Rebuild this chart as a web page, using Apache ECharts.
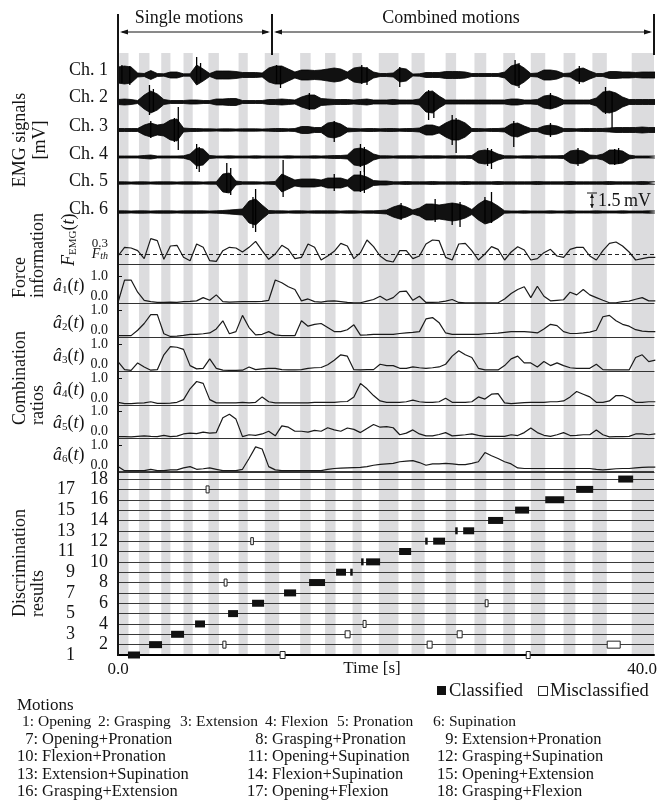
<!DOCTYPE html>
<html><head><meta charset="utf-8">
<script src="https://cdn.jsdelivr.net/npm/echarts@6/dist/echarts.min.js"></script>
<style>html,body{margin:0;padding:0;background:#fff}#c{width:658px;height:804px}</style>
</head><body><div id="c"></div>
<script>
// ---------------- data ----------------
const DT = 0.5;           // sampling step of the read-off curves [s]
const T_MAX = 40.9;       // right end of time axis [s]
const restBands = [[0.1,0.8],[1.6,2.4],[3.3,4.0],[5.0,5.7],[6.9,7.7],[9.2,9.9],[11.2,12.3],[13.9,14.7],[15.8,16.6],[17.9,18.6],[19.9,21.4],[22.4,23.4],[25.0,25.8],[27.2,28.1],[29.4,30.3],[31.5,32.6],[34.0,34.9],[36.2,37.3],[39.2,40.9]];
const motionNumbers = [1,2,3,4,5,6,7,8,9,10,11,12,13,14,15,16,17,18];
const motionLabelTimes = [1.3,3.0,4.7,6.4,8.55,10.6,13.05,15.25,17.1,19.25,22.0,24.2,26.2,28.4,30.9,33.35,35.65,38.15];

// EMG envelopes (half amplitude, mV), one value per 0.5 s
const emgCh1 = [0.8,0.9,0.8,0.2,0.15,0.45,0.15,0.12,0.3,0.3,0.12,0.12,1.0,0.6,0.15,0.4,0.4,0.4,0.35,0.25,0.25,0.25,0.2,0.7,0.9,0.9,0.6,0.3,0.5,0.5,0.45,0.5,0.6,
0.7,0.6,0.3,0.7,0.8,0.7,0.3,0.15,0.15,0.2,0.7,0.6,0.1,0.12,0.25,0.25,0.25,0.35,0.35,0.35,0.3,0.15,0.15,0.15,0.15,0.15,0.3,0.9,1.1,0.7,0.15,0.2,0.5,0.5,0.4,0.15,0.2,0.6,0.7,0.4,0.15,0.15,0.35,0.35,0.3,0.3,0.25,0.3,0.3,0.3];
const emgCh2 = [0.25,0.3,0.25,0.15,0.7,1.1,0.8,0.25,0.15,0.15,0.15,0.2,0.2,0.15,0.15,0.3,0.3,0.35,0.35,0.15,0.15,0.15,0.15,0.25,0.25,0.3,0.25,0.2,0.5,0.7,0.7,0.35,0.3,
0.25,0.25,0.25,0.2,0.25,0.3,0.2,0.2,0.2,0.25,0.2,0.2,0.2,0.3,1.0,1.1,0.6,0.2,0.2,0.2,0.2,0.2,0.2,0.2,0.2,0.2,0.2,0.3,0.3,0.2,0.2,0.25,0.6,0.7,0.5,0.2,0.2,0.2,0.2,0.2,0.4,1.0,1.1,0.9,0.5,0.25,0.25,0.25,0.25,0.25];
const emgCh3 = [0.15,0.15,0.15,0.15,0.5,0.7,0.5,0.6,1.0,1.1,0.2,0.15,0.15,0.12,0.12,0.1,0.12,0.12,0.1,0.12,0.12,0.12,0.1,0.12,0.15,0.15,0.12,0.15,0.35,0.35,0.25,0.25,0.7,
0.8,0.6,0.2,0.15,0.12,0.15,0.15,0.12,0.15,0.15,0.12,0.15,0.15,0.2,0.5,0.5,0.3,0.7,1.0,1.0,0.7,0.15,0.15,0.12,0.15,0.15,0.2,0.6,0.7,0.4,0.15,0.15,0.4,0.5,0.4,0.15,0.15,0.12,0.15,0.15,0.15,0.15,0.2,0.25,0.25,0.25,0.25,0.3,0.25,0.25];
const emgCh4 = [0.1,0.1,0.1,0.1,0.15,0.2,0.1,0.1,0.1,0.1,0.12,0.3,0.9,0.8,0.15,0.1,0.1,0.12,0.1,0.1,0.1,0.12,0.1,0.1,0.1,0.1,0.12,0.1,0.1,0.1,0.12,0.1,0.12,
0.15,0.15,0.2,0.8,0.9,0.7,0.3,0.12,0.12,0.1,0.12,0.12,0.12,0.1,0.12,0.12,0.12,0.1,0.12,0.12,0.12,0.15,0.6,0.7,0.6,0.3,0.12,0.12,0.1,0.12,0.12,0.1,0.12,0.12,0.12,0.15,0.6,0.7,0.6,0.2,0.15,0.3,0.7,0.7,0.6,0.2,0.1,0.1,0.1,0.1];
const emgCh5 = [0.12,0.12,0.1,0.12,0.12,0.1,0.12,0.12,0.12,0.1,0.12,0.12,0.12,0.1,0.12,0.12,0.9,1.0,0.2,0.12,0.12,0.12,0.1,0.12,0.15,0.9,0.6,0.3,0.4,0.4,0.4,0.3,0.5,
0.5,0.5,0.3,0.8,0.8,0.6,0.25,0.2,0.2,0.12,0.12,0.15,0.12,0.12,0.12,0.15,0.12,0.12,0.12,0.12,0.15,0.12,0.12,0.12,0.12,0.15,0.12,0.12,0.12,0.12,0.12,0.15,0.12,0.12,0.12,0.12,0.15,0.12,0.12,0.12,0.12,0.12,0.15,0.12,0.12,0.12,0.12,0.15,0.12,0.12];
const emgCh6 = [0.12,0.12,0.1,0.12,0.12,0.1,0.12,0.12,0.12,0.1,0.12,0.12,0.12,0.12,0.1,0.12,0.15,0.2,0.25,0.3,1.1,1.3,0.7,0.15,0.12,0.12,0.1,0.12,0.12,0.1,0.12,0.12,0.12,
0.12,0.1,0.12,0.12,0.1,0.12,0.12,0.15,0.2,0.5,0.7,0.5,0.2,0.4,0.8,0.8,0.7,0.8,0.9,0.8,0.6,0.25,0.8,1.2,1.0,0.6,0.12,0.1,0.1,0.12,0.1,0.1,0.1,0.12,0.1,0.1,0.12,0.1,0.1,0.1,0.12,0.1,0.1,0.1,0.12,0.1,0.1,0.1,0.12,0.1];
const emgChannels = [emgCh1, emgCh2, emgCh3, emgCh4, emgCh5, emgCh6];
// individual visible spikes: [time s, top mV, bottom mV]
const emgSpikes1 = [[0.3,1.0,-0.8],[0.9,0.9,-1.0],[6.0,1.8,-0.8],[6.3,1.2,-0.6],[12.1,1.0,-0.9],[12.4,0.9,-1.3],[18.6,1.0,-0.9],[19.0,0.8,-1.0],[21.5,0.8,-1.2],[30.3,1.5,-1.0],[30.6,1.2,-1.3],[35.2,0.9,-0.9]];
const emgSpikes2 = [[2.4,1.7,-1.3],[2.7,1.3,-1.0],[14.6,0.9,-0.8],[23.7,1.2,-1.8],[24.1,0.9,-1.6],[33.0,0.9,-0.7],[37.2,1.5,-1.2],[37.7,1.0,-2.6]];
const emgSpikes3 = [[2.5,0.9,-0.8],[4.3,1.2,-1.2],[4.6,2.3,-2.0],[16.5,0.9,-1.2],[25.5,1.5,-1.5],[25.8,1.2,-2.3],[30.2,0.9,-1.7],[33.0,0.7,-0.7]];
const emgSpikes4 = [[6.0,1.3,-1.2],[6.2,1.0,-1.5],[18.5,1.3,-1.0],[18.8,1.0,-1.5],[28.2,0.9,-0.9],[28.5,0.8,-1.2],[35.1,0.9,-0.9],[37.9,0.8,-0.8],[38.2,0.9,-0.7]];
const emgSpikes5 = [[8.3,2.0,-1.0],[8.6,1.5,-1.2],[12.6,2.3,-1.4],[16.5,0.9,-0.8],[18.5,1.2,-0.9],[18.8,1.8,-1.0]];
const emgSpikes6 = [[10.3,1.5,-1.6],[10.5,2.3,-2.0],[21.6,0.9,-0.8],[24.2,1.3,-1.0],[25.5,0.9,-1.3],[26.1,1.0,-1.5],[28.0,1.5,-1.0],[28.5,2.0,-1.1]];
const emgSpikes = [emgSpikes1, emgSpikes2, emgSpikes3, emgSpikes4, emgSpikes5, emgSpikes6];
const channelNames = ['Ch. 1','Ch. 2','Ch. 3','Ch. 4','Ch. 5','Ch. 6'];

// force information F_EMG(t)
const forceEMG = [0.12,0.25,0.24,0.2,0.08,0.38,0.35,0.07,0.27,0.28,0.1,0.05,0.3,0.25,0.05,0.04,0.2,0.25,0.24,0.18,0.25,0.34,0.2,0.07,0.15,0.28,0.22,0.08,0.1,0.3,0.25,0.06,0.12,
0.19,0.31,0.27,0.08,0.17,0.36,0.26,0.12,0.05,0.03,0.2,0.2,0.08,0.12,0.3,0.36,0.35,0.1,0.06,0.3,0.31,0.2,0.06,0.15,0.26,0.22,0.06,0.18,0.26,0.21,0.06,0.08,0.17,0.22,0.12,0.1,0.22,0.25,0.25,0.12,0.06,0.2,0.31,0.33,0.27,0.18,0.06,0.08,0.1,0.1];
const FTH = 0.15;

// combination ratios a1..a6
const ratio1 = [0.02,0.85,0.85,0.4,0.1,0.05,0.02,0.02,0.03,0.02,0.05,0.06,0.08,0.2,0.1,0.3,0.05,0.03,0.04,0.05,0.05,0.05,0.06,0.1,0.85,0.75,0.6,0.5,0.08,0.15,0.05,0.03,0.07,
0.08,0.05,0.02,0.01,0.01,0.07,0.13,0.25,0.1,0.2,0.42,0.44,0.1,0.25,0.02,0.02,0.03,0.07,0.13,0.02,0.01,0.01,0.01,0.01,0.01,0.01,0.15,0.35,0.5,0.6,0.2,0.62,0.25,0.08,0.1,0.12,0.4,0.3,0.5,0.3,0.2,0.1,0.01,0.01,0.05,0.07,0.14,0.2,0.08,0.08];
const ratio2 = [0.05,0.05,0.05,0.25,0.5,0.83,0.83,0.12,0.02,0.03,0.06,0.1,0.1,0.12,0.15,0.3,0.6,0.12,0.2,0.8,0.35,0.08,0.1,0.2,0.08,0.05,0.05,0.05,0.6,0.4,0.47,0.5,0.35,
0.2,0.2,0.27,0.45,0.07,0.08,0.1,0.1,0.1,0.1,0.13,0.15,0.17,0.2,0.67,0.72,0.53,0.15,0.1,0.1,0.1,0.1,0.1,0.12,0.13,0.14,0.17,0.2,0.2,0.2,0.18,0.15,0.3,0.47,0.42,0.2,0.13,0.13,0.15,0.18,0.25,0.75,0.8,0.6,0.47,0.4,0.27,0.22,0.2,0.2];
const ratio3 = [0.35,0.05,0.02,0.3,0.15,0.03,0.05,0.6,0.9,0.88,0.8,0.2,0.08,0.1,0.45,0.1,0.03,0.02,0.02,0.03,0.15,0.05,0.08,0.1,0.1,0.05,0.04,0.04,0.05,0.1,0.12,0.13,0.23,
0.4,0.6,0.55,0.05,0.04,0.05,0.05,0.25,0.2,0.2,0.1,0.1,0.15,0.12,0.1,0.12,0.15,0.25,0.55,0.75,0.6,0.5,0.1,0.04,0.04,0.04,0.2,0.45,0.55,0.3,0.3,0.15,0.35,0.2,0.3,0.2,0.12,0.1,0.1,0.1,0.25,0.05,0.04,0.04,0.04,0.04,0.5,0.6,0.35,0.4];
const ratio4 = [0.1,0.05,0.05,0.07,0.08,0.12,0.06,0.06,0.07,0.1,0.2,0.6,0.87,0.8,0.2,0.08,0.08,0.08,0.08,0.1,0.08,0.1,0.3,0.12,0.08,0.08,0.08,0.08,0.08,0.08,0.1,0.1,0.1,
0.1,0.12,0.13,0.3,0.8,0.6,0.35,0.15,0.1,0.1,0.1,0.12,0.18,0.12,0.1,0.1,0.12,0.25,0.1,0.1,0.1,0.12,0.3,0.22,0.4,0.42,0.08,0.05,0.07,0.09,0.1,0.1,0.1,0.12,0.12,0.15,0.3,0.5,0.4,0.3,0.1,0.1,0.15,0.35,0.35,0.25,0.1,0.1,0.12,0.12];
const ratio5 = [0.05,0.05,0.04,0.06,0.08,0.06,0.05,0.1,0.05,0.07,0.15,0.18,0.16,0.22,0.18,0.2,0.75,0.88,0.7,0.05,0.12,0.1,0.15,0.25,0.08,0.45,0.4,0.25,0.25,0.22,0.28,0.25,0.38,
0.3,0.25,0.37,0.32,0.2,0.35,0.5,0.4,0.42,0.38,0.12,0.18,0.3,0.15,0.08,0.08,0.13,0.2,0.08,0.1,0.12,0.15,0.1,0.06,0.06,0.06,0.06,0.12,0.09,0.2,0.37,0.2,0.1,0.06,0.12,0.2,0.09,0.1,0.12,0.12,0.3,0.12,0.04,0.05,0.05,0.06,0.15,0.15,0.12,0.15];
const ratio6 = [0.2,0.05,0.05,0.05,0.05,0.1,0.05,0.05,0.08,0.08,0.15,0.2,0.1,0.12,0.15,0.1,0.05,0.05,0.05,0.1,0.5,0.93,0.85,0.2,0.08,0.05,0.05,0.05,0.05,0.05,0.05,0.05,0.1,
0.13,0.14,0.15,0.16,0.17,0.2,0.25,0.28,0.3,0.32,0.38,0.4,0.42,0.35,0.25,0.3,0.3,0.32,0.3,0.27,0.27,0.32,0.38,0.72,0.6,0.5,0.38,0.3,0.15,0.13,0.13,0.13,0.13,0.13,0.13,0.13,0.13,0.13,0.13,0.13,0.1,0.08,0.1,0.12,0.13,0.13,0.15,0.17,0.18,0.18];
const ratios = [ratio1, ratio2, ratio3, ratio4, ratio5, ratio6];

// discrimination results: [start s, end s, motion]
const classified = [[0.76,1.68,1],[2.37,3.36,2],[4.05,5.04,3],[5.88,6.64,4],[8.4,9.16,5],[10.23,11.15,6],[12.67,13.59,7],[14.58,15.8,8],[16.64,17.4,9],[17.72,17.86,9],[18.55,18.62,10],[18.93,20.0,10],[21.45,22.37,11],[23.44,23.59,12],[24.05,24.96,12],[25.73,25.92,13],[26.34,27.18,13],[28.24,29.39,14],[30.3,31.37,15],[32.6,34.05,16],[34.96,36.26,17],[38.17,39.31,18]];
const misclassified = [[6.72,6.95,17],[10.13,10.33,12],[8.1,8.32,8],[8.0,8.24,2],[12.37,12.75,1],[28.02,28.24,6],[18.7,18.93,4],[17.33,17.71,3],[25.88,26.26,3],[23.59,23.97,2],[37.33,38.32,2],[31.15,31.45,1]];
const timeLabels = [0, 40];

const motionRow1 = ['1: Opening','2: Grasping','3: Extension','4: Flexion','5: Pronation','6: Supination'];
const motionGrid = [
  [['7','Opening+Pronation'],['8','Grasping+Pronation'],['9','Extension+Pronation']],
  [['10','Flexion+Pronation'],['11','Opening+Supination'],['12','Grasping+Supination']],
  [['13','Extension+Supination'],['14','Flexion+Supination'],['15','Opening+Extension']],
  [['16','Grasping+Extension'],['17','Opening+Flexion'],['18','Grasping+Flexion']]
];

// ---------------- layout / styles ----------------
const SERIF = '"Liberation Serif","Times New Roman","DejaVu Serif",serif';
const INK = '#141414';
const X0 = 118, XW = 536;
const toXY = arr => arr.map((v, i) => [i * DT, v]);

const grids = [], xAxes = [], yAxes = [], series = [];
function addGrid(top, height) { grids.push({ left: X0, width: XW, top, height, containLabel: false, outerBoundsMode: 'none' }); return grids.length - 1; }
function addX(gi, extra) { xAxes.push(Object.assign({ type: 'value', gridIndex: gi, min: 0, max: T_MAX, show: false, z: 5 }, extra || {})); return xAxes.length - 1; }
function addY(gi, extra) { yAxes.push(Object.assign({ type: 'value', gridIndex: gi, show: false, position: 'left', z: 5 }, extra || {})); return yAxes.length - 1; }

// background rest bands
{
  const g = addGrid(53, 602);
  const xi = addX(g), yi = addY(g, { min: 0, max: 1 });
  series.push({
    type: 'custom', xAxisIndex: xi, yAxisIndex: yi, z: 1, silent: true,
    data: restBands,
    renderItem: (p, api) => {
      const a = api.coord([api.value(0), 1]), b = api.coord([api.value(1), 0]);
      return { type: 'rect', shape: { x: a[0], y: a[1], width: b[0] - a[0], height: b[1] - a[1] }, style: { fill: '#dcdcde' } };
    }
  });
}
// header motion numbers
{
  const g = addGrid(38, 18);
  const xi = addX(g), yi = addY(g, { min: 0, max: 1 });
  series.push({
    type: 'scatter', xAxisIndex: xi, yAxisIndex: yi, symbolSize: 1, itemStyle: { opacity: 0 }, silent: true,
    data: motionLabelTimes.map((t, i) => [t, 0.5, motionNumbers[i]]),
    label: { show: true, position: 'inside', formatter: p => String(p.value[2]), fontFamily: SERIF, fontSize: 18, color: INK }
  });
}
// EMG channels
const emgBase = [75, 102, 130, 157, 183, 212];
emgChannels.forEach((ch, k) => {
  const g = addGrid(emgBase[k] - 30, 60);
  const xi = addX(g), yi = addY(g, { min: -3, max: 3 });
  [1, -1].forEach(sg => series.push({
    type: 'line', xAxisIndex: xi, yAxisIndex: yi, symbol: 'none', z: 6, silent: true,
    data: ch.map((v, i) => [i * DT, sg * v]),
    lineStyle: { color: '#000', width: 0.8 },
    areaStyle: { color: '#111', opacity: 1 }
  }));
  series.push({
    type: 'custom', xAxisIndex: xi, yAxisIndex: yi, z: 6, silent: true, data: emgSpikes[k],
    renderItem: (p, api) => {
      const a = api.coord([api.value(0), api.value(1)]), b = api.coord([api.value(0), api.value(2)]);
      return { type: 'line', shape: { x1: a[0], y1: a[1], x2: b[0], y2: b[1] }, style: { stroke: '#000', lineWidth: 1.3 } };
    }
  });
});
// force information
{
  const g = addGrid(233, 31);
  const xi = addX(g, { show: true, axisLine: { lineStyle: { color: '#333', width: 1.2 } }, axisTick: { show: false }, axisLabel: { show: false }, splitLine: { show: false } });
  const yi = addY(g, {
    show: true, min: 0, max: 0.465, interval: 0.15,
    axisLine: { show: false }, axisTick: { show: false }, splitLine: { show: false },
    axisLabel: {
      margin: 10, fontFamily: SERIF, fontSize: 13, color: INK,
      formatter: v => Math.abs(v) < 1e-6 ? '0.0' : Math.abs(v - FTH) < 1e-6 ? '{f|F}{s|th}' : Math.abs(v - 0.3) < 1e-6 ? '0.3' : '',
      rich: { f: { fontFamily: SERIF, fontStyle: 'italic', fontSize: 14, color: INK }, s: { fontFamily: SERIF, fontStyle: 'italic', fontSize: 10, color: INK, verticalAlign: 'bottom', padding: [5, 0, 0, 0] } }
    }
  });
  series.push({
    type: 'line', xAxisIndex: xi, yAxisIndex: yi, symbol: 'none', z: 6, silent: true,
    data: toXY(forceEMG), lineStyle: { color: '#1a1a1a', width: 1.2 },
    markLine: { silent: true, symbol: 'none', label: { show: false }, lineStyle: { type: [4, 3], color: '#222', width: 1 }, data: [{ yAxis: FTH }] }
  });
}
// combination ratios
const ratioPanels = [[264, 303], [303, 337], [337, 371], [371, 405], [405, 438], [438, 472]];
ratios.forEach((r, k) => {
  const [top, bot] = ratioPanels[k];
  const g = addGrid(top, bot - top);
  const ymax = (bot - top) / 27;
  const xi = addX(g, { show: true, axisLine: { lineStyle: { color: '#333', width: 1.2 } }, axisTick: { show: false }, axisLabel: { show: false }, splitLine: { show: false } });
  const yi = addY(g, {
    show: true, min: 0, max: ymax, interval: 1,
    axisLine: { show: false }, splitLine: { show: false },
    axisTick: { show: true, inside: true, length: 4, customValues: [1], lineStyle: { color: INK, width: 1 } },
    axisLabel: { margin: 10, fontFamily: SERIF, fontSize: 14, color: INK, customValues: [1], formatter: v => (v === 1 ? '1.0' : '') }
  });
  addY(g, {
    show: true, min: 0, max: ymax, interval: 1,
    axisLine: { show: false }, splitLine: { show: false }, axisTick: { show: false },
    axisLabel: { margin: 10, fontFamily: SERIF, fontSize: 14, color: INK, verticalAlign: 'bottom', lineHeight: 14, customValues: [0], formatter: v => (v === 0 ? '0.0' : '') }
  });
  series.push({ type: 'line', xAxisIndex: xi, yAxisIndex: yi, symbol: 'none', z: 6, silent: true, data: toXY(r), lineStyle: { color: '#1a1a1a', width: 1.2 } });
});
// discrimination results
{
  const g = addGrid(471, 184);
  const xi = addX(g, {
    show: true, interval: 40,
    axisLine: { lineStyle: { color: '#000', width: 2 } }, axisTick: { show: false }, splitLine: { show: false },
    axisLabel: { margin: 6, fontFamily: SERIF, fontSize: 17, color: INK, formatter: v => (timeLabels.indexOf(v) >= 0 ? v.toFixed(1) : '') }
  });
  const yMax = 1 + 184 / 10.35;
  const yi = addY(g, {
    show: true, min: 1, max: yMax, interval: 1,
    axisLine: { show: false }, axisTick: { show: false },
    splitLine: { show: true, lineStyle: { color: '#3a3a3a', width: 1 } },
    axisLabel: { margin: 10, fontFamily: SERIF, fontSize: 18, color: INK, formatter: v => (Number.isInteger(v) && v % 2 === 0 ? String(v) : '') }
  });
  addY(g, {
    show: true, min: 1, max: yMax, interval: 1,
    axisLine: { show: false }, axisTick: { show: false }, splitLine: { show: false },
    axisLabel: { margin: 43, fontFamily: SERIF, fontSize: 18, color: INK, formatter: v => (Number.isInteger(v) && v % 2 === 1 ? String(v) : '') }
  });
  const rectRender = (fill, stroke) => (p, api) => {
    const a = api.coord([api.value(0), api.value(2)]), b = api.coord([api.value(1), api.value(2)]);
    const h = 7, w = Math.max(b[0] - a[0], 2.5);
    return { type: 'rect', shape: { x: a[0], y: a[1] - h / 2, width: w, height: h }, style: { fill, stroke: stroke || null, lineWidth: stroke ? 1 : 0 } };
  };
  series.push({ type: 'custom', xAxisIndex: xi, yAxisIndex: yi, z: 7, clip: false, silent: true, data: classified, encode: { x: [0, 1], y: 2 }, renderItem: rectRender('#111', null) });
  series.push({ type: 'custom', xAxisIndex: xi, yAxisIndex: yi, z: 8, clip: false, silent: true, data: misclassified, encode: { x: [0, 1], y: 2 }, renderItem: rectRender('#fff', '#222') });
}

// ---------------- annotations (graphic) ----------------
const G = [];
function txt(x, y, text, o) {
  o = o || {};
  G.push({ type: 'text', x, y, z: 100, rotation: o.rot || 0, silent: true,
    style: { text, fontFamily: SERIF, fontSize: o.size || 18, fontStyle: o.italic ? 'italic' : 'normal', fill: INK, align: o.align || 'left', verticalAlign: o.va || 'middle', rich: o.rich } });
}
function ln(x1, y1, x2, y2, w) { G.push({ type: 'line', z: 100, silent: true, shape: { x1, y1, x2, y2 }, style: { stroke: INK, lineWidth: w || 1 } }); }
function poly(points) { G.push({ type: 'polygon', z: 100, silent: true, shape: { points }, style: { fill: INK } }); }

// header
ln(X0, 14, X0, 656, 2);
ln(272, 14, 272, 55, 2);
ln(654, 14, 654, 55, 2);
ln(122, 32, 268, 32, 1); poly([[120, 32], [128, 29.5], [128, 34.5]]); poly([[270, 32], [262, 29.5], [262, 34.5]]);
ln(276, 32, 650, 32, 1); poly([[274, 32], [282, 29.5], [282, 34.5]]); poly([[652, 32], [644, 29.5], [644, 34.5]]);
txt(189, 18, 'Single motions', { align: 'center' });
txt(451, 18, 'Combined motions', { align: 'center' });

// channel labels
const chLabelY = [70, 97, 126, 154, 181, 209];
channelNames.forEach((n, k) => txt(108, chLabelY[k], n, { align: 'right' }));
// scale bar
ln(587, 193, 597, 193, 1); ln(592, 194, 592, 208, 1);
poly([[592, 194], [590, 198], [594, 198]]); poly([[592, 208], [590, 204], [594, 204]]);
txt(598, 201, '1.5\u2009mV');

// rotated titles
txt(20, 140, 'EMG signals', { rot: Math.PI / 2, align: 'center' });
txt(40, 140, '[mV]', { rot: Math.PI / 2, align: 'center' });
txt(20, 298, 'Force', { rot: Math.PI / 2 });
txt(38, 298, 'information', { rot: Math.PI / 2 });
txt(20, 425, 'Combination', { rot: Math.PI / 2 });
txt(38, 425, 'ratios', { rot: Math.PI / 2 });
txt(20, 617, 'Discrimination', { rot: Math.PI / 2 });
txt(38, 617, 'results', { rot: Math.PI / 2 });

// F_EMG(t) and a_i(t)
const richBase = {
  i: { fontFamily: SERIF, fontStyle: 'italic', fontSize: 18, fill: INK, lineHeight: 20 },
  n: { fontFamily: SERIF, fontSize: 18, fill: INK, lineHeight: 20 },
  s: { fontFamily: SERIF, fontSize: 11, fill: INK, lineHeight: 20, verticalAlign: 'bottom' }
};
txt(69, 266, '{i|F}{s|EMG}{n|(}{i|t}{n|)}', { rot: Math.PI / 2, rich: richBase });
const aLabelY = [286, 323, 356, 390, 423, 455];
aLabelY.forEach((y, k) => txt(53, y, '{i|\u00e2}{s|' + (k + 1) + '}{n|(}{i|t}{n|)}', { rich: richBase }));

// time axis name
txt(372, 669, 'Time [s]', { align: 'center', size: 17 });

// legend
G.push({ type: 'rect', z: 100, shape: { x: 437, y: 686, width: 9, height: 9 }, style: { fill: '#111' } });
txt(449, 691, 'Classified', { size: 18.5 });
G.push({ type: 'rect', z: 100, shape: { x: 538.5, y: 686.5, width: 9, height: 9 }, style: { fill: '#fff', stroke: '#222', lineWidth: 1 } });
txt(550, 691, 'Misclassified', { size: 18.5 });

// motions list
txt(17, 706, 'Motions', { size: 17 });
const row1X = [22, 98, 180, 265, 337, 433];
motionRow1.forEach((s, i) => txt(row1X[i], 722, s, { size: 15.5 }));
const colonX = [38, 268, 458];
const LIST_SIZE = 16.5;
const rowY = [740, 757, 775, 792];
motionGrid.forEach((row, r) => row.forEach((it, c) => {
  txt(colonX[c], rowY[r], it[0] + ':', { size: LIST_SIZE, align: 'right' });
  txt(colonX[c] + 4, rowY[r], it[1], { size: LIST_SIZE });
}));

const chart = echarts.init(document.getElementById('c'), null, { renderer: 'canvas' });
chart.setOption({ animation: false, backgroundColor: '#fff', grid: grids, xAxis: xAxes, yAxis: yAxes, series, graphic: G });
</script></body></html>
